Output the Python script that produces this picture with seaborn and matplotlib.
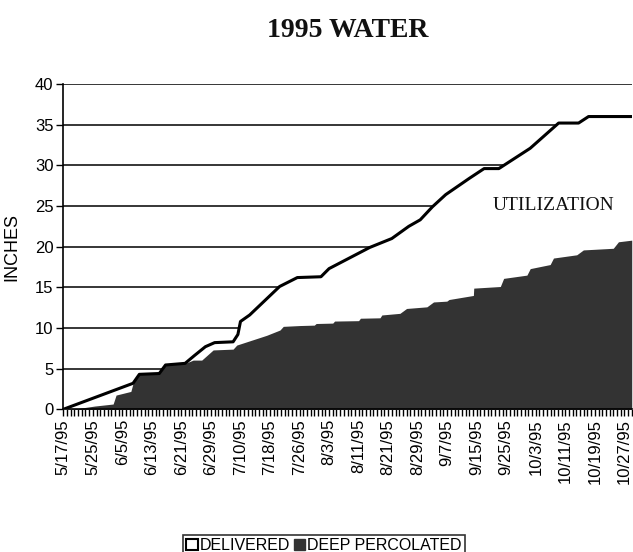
import matplotlib
matplotlib.use("Agg")
import matplotlib.pyplot as plt
import seaborn as sns
import numpy as np
from matplotlib.patches import Patch

# Category axis: one slot per recorded date, labels on every 8th date
n_dates = 155
label_step = 8
date_labels = ["5/17/95", "5/25/95", "6/5/95", "6/13/95", "6/21/95", "6/29/95",
               "7/10/95", "7/18/95", "7/26/95", "8/3/95", "8/11/95", "8/21/95",
               "8/29/95", "9/7/95", "9/15/95", "9/25/95", "10/3/95", "10/11/95",
               "10/19/95", "10/27/95"]

# Cumulative delivered water (inches) at break points of the curve
delivered_idx = [0, 18.9, 20.6, 26, 27.7, 33, 35.5, 38.5, 41, 46, 47.3, 48,
                 50.5, 58.6, 63.4, 69.8, 72, 83, 89, 93.6, 96.7, 100, 103.6,
                 110, 114, 118, 126.5, 134.2, 139.6, 142.3, 154]
delivered_in = [0, 3.2, 4.3, 4.4, 5.45, 5.65, 6.6, 7.7, 8.2, 8.3, 9.2, 10.8,
                11.6, 15.1, 16.2, 16.3, 17.3, 19.9, 21.0, 22.5, 23.3, 24.9, 26.4,
                28.4, 29.6, 29.6, 32.1, 35.2, 35.2, 36.0, 36.0]

# Cumulative deep percolation (inches) at break points of the curve
perc_idx = [0, 4, 8.5, 13.5, 14.3, 18.3, 18.9, 20.6, 26, 27.7, 33, 35.2, 37.5,
            40.6, 46, 47, 55.1, 58.7, 59.6, 64.1, 68, 68.5, 73, 73.5, 80, 80.5,
            85.8, 86.3, 91.2, 93, 98.5, 100.3, 103.9, 104.5, 111.1, 111.2,
            118.4, 119.3, 125.6, 126.5, 131.9, 132.8, 139.1, 140.9, 149, 150.4,
            154]
perc_in = [0, 0.1, 0.4, 0.65, 1.75, 2.2, 3.2, 4.3, 4.4, 5.45, 5.65, 6.05, 6.05,
           7.3, 7.4, 7.9, 9.1, 9.75, 10.2, 10.3, 10.35, 10.55, 10.6, 10.85, 10.9,
           11.2, 11.25, 11.6, 11.8, 12.4, 12.6, 13.2, 13.3, 13.5, 14.0, 14.9,
           15.1, 16.1, 16.5, 17.3, 17.8, 18.6, 19.0, 19.6, 19.8, 20.6, 20.8]

sns.set_theme(style="white")
plt.rcParams["font.family"] = ["Liberation Sans", "DejaVu Sans"]

fig = plt.figure(figsize=(6.33, 5.52), dpi=100)
ax = fig.add_axes([0.1, 0.2585, 0.898, 0.5893])

dark = "#333333"

# Horizontal gridlines sit behind the white delivered area
for v in range(5, 45, 5):
    ax.axhline(v, color="black", lw=1.1, zorder=0.5)

ax.fill_between(delivered_idx, delivered_in, 0, color="white", zorder=1)
ax.fill_between(perc_idx, perc_in, 0, color=dark, lw=0, zorder=2)
sns.lineplot(x=delivered_idx, y=delivered_in, color="black", lw=2.2,
             sort=False, estimator=None, ax=ax, zorder=3)

ax.set_xlim(0, n_dates - 1)
ax.set_ylim(0, 40)

ax.set_xticks(np.arange(0, n_dates, label_step)[:len(date_labels)])
ax.set_xticklabels(date_labels, rotation=90, fontsize=12)
ax.set_xticks(np.arange(n_dates), minor=True)
ax.tick_params(axis="x", which="both", direction="out", length=5, width=1,
               color="black", bottom=True, pad=2)
ax.set_yticks(range(0, 45, 5))
ax.tick_params(axis="y", direction="out", length=5, width=1, color="black",
               left=True, labelsize=12, pad=2)
for lbl in ax.get_xticklabels() + ax.get_yticklabels():
    lbl.set_color("black")

for side in ["top", "right"]:
    ax.spines[side].set_visible(False)
for side in ["left", "bottom"]:
    ax.spines[side].set_color("black")
    ax.spines[side].set_linewidth(1.2)

ax.set_ylabel("INCHES", fontsize=13, color="black")
ax.yaxis.set_label_coords(-0.075, 0.5)

fig.text(0.55, 0.944, "1995 WATER", ha="center", va="center",
         fontsize=20, fontweight="bold", family="Liberation Serif", color="#111111")
ax.text(0.862, 0.628, "UTILIZATION", transform=ax.transAxes, ha="center",
        va="center", fontsize=14, family="Liberation Serif", color="#111111")

handles = [Patch(facecolor="white", edgecolor="black", lw=1.5, label="DELIVERED"),
           Patch(facecolor=dark, edgecolor=dark, label="DEEP PERCOLATED")]
leg = fig.legend(handles=handles, loc="lower center", bbox_to_anchor=(0.512, -0.008),
                 ncol=2, frameon=True, fancybox=False, edgecolor="black",
                 fontsize=11.5, handlelength=0.7, handleheight=0.7,
                 handletextpad=0.15, columnspacing=0.2, borderpad=0.2,
                 borderaxespad=0.0)
leg.get_frame().set_linewidth(1.2)
for t in leg.get_texts():
    t.set_color("black")

fig.savefig("out.png", dpi=100, facecolor="white")
